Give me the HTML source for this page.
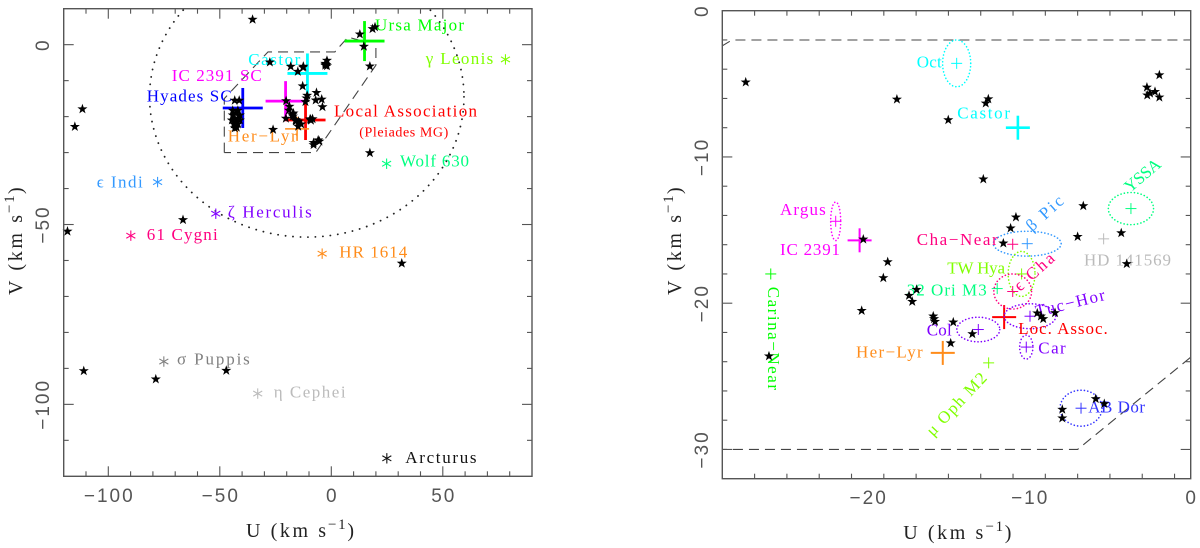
<!DOCTYPE html>
<html lang="en">
<head>
<meta charset="utf-8">
<title>UV velocity diagrams</title>
<style>
html,body{margin:0;padding:0;background:#fff;}
svg{display:block;}
.l{font-family:"Liberation Serif","DejaVu Serif",serif;font-size:17px;}
.s{font-family:"Liberation Serif","DejaVu Serif",serif;font-size:14px;}
.a{font-family:"Liberation Serif","DejaVu Serif",serif;font-size:20px;fill:#222;}
.a2{font-family:"Liberation Serif","DejaVu Serif",serif;font-size:15px;fill:#222;}
.t{font-family:"Liberation Sans",sans-serif;font-size:19px;letter-spacing:2px;fill:#555;}
</style>
</head>
<body>
<svg id="chart" xmlns="http://www.w3.org/2000/svg" width="1200" height="548" viewBox="0 0 1200 548">
<defs>
<clipPath id="clipL"><rect x="63.7" y="8.7" width="468.3" height="467.6"/></clipPath>
<clipPath id="clipR"><rect x="722.3" y="10.7" width="468.4" height="468"/></clipPath>
</defs>
<rect width="1200" height="548" fill="#fff"/>

<g id="leftMarks"></g>
<g id="rightMarks"></g>

<g>
<text class="l" x="375" y="30.7" textLength="89" fill="#00ff00">Ursa Major</text>
<text class="l" x="248.3" y="65" textLength="52" fill="#00ffff">Castor</text>
<text class="l" x="171.7" y="81" textLength="90" fill="#ff00ff">IC 2391 SC</text>
<text class="l" x="146.7" y="101.7" textLength="85" fill="#0000ff">Hyades SC</text>
<text class="l" x="334" y="116.7" textLength="143" fill="#ff0000">Local Association</text>
<text class="s" x="359.3" y="136.7" textLength="89" fill="#ff0000">(Pleiades MG)</text>
<text class="l" x="227.7" y="141.7" textLength="69" fill="#ff8c1a">Her−Lyr</text>
<text class="l" x="425.7" y="64" textLength="67.6" fill="#80ff00">γ Leonis</text>
<text class="l" x="400" y="166.7" textLength="69" fill="#00ff80">Wolf 630</text>
<text class="l" x="339.3" y="257.7" textLength="68" fill="#ff8c1a">HR 1614</text>
<text class="l" x="96.7" y="187.3" textLength="46" fill="#3399ff">ϵ Indi</text>
<text class="l" x="227.7" y="217.7" textLength="84" fill="#8000ff">ζ Herculis</text>
<text class="l" x="146.7" y="240" textLength="71" fill="#ff0080">61 Cygni</text>
<text class="l" x="177" y="364.7" textLength="72.8" fill="#808080">σ Puppis</text>
<text class="l" x="273.7" y="397.3" textLength="71.9" fill="#bbbbbb">η Cephei</text>
<text class="l" x="405.3" y="463" textLength="71.2" fill="#111111">Arcturus</text>
</g>

<g>
<text class="l" x="916.7" y="67.7" textLength="25" fill="#00ffff">Oct</text>
<text class="l" x="957.3" y="118.3" textLength="52.7" fill="#00ffff">Castor</text>
<text class="l" x="780" y="215" textLength="45.7" fill="#ff00ff">Argus</text>
<text class="l" x="780" y="255" textLength="60" fill="#ff00ff">IC 2391</text>
<text class="l" x="916.7" y="245" textLength="81" fill="#ff0080">Cha−Near</text>
<text class="l" x="1032" y="232" textLength="44" fill="#3399ff" transform="rotate(-42 1032 232)">β Pic</text>
<text class="l" x="1130" y="193" textLength="42" fill="#00ff80" transform="rotate(-40 1130 193)">YSSA</text>
<text class="l" x="1084" y="265.7" textLength="87" fill="#bbbbbb">HD 141569</text>
<text class="l" x="947.3" y="273.3" textLength="57.7" fill="#80ff00">TW Hya</text>
<text class="l" x="906.7" y="295.7" textLength="80" fill="#00ff80">32 Ori M3</text>
<text class="l" x="1020" y="292" textLength="48" fill="#ff0080" transform="rotate(-42 1020 292)">ϵ Cha</text>
<text class="l" x="1037" y="317" textLength="71" fill="#8000ff" transform="rotate(-14 1037 317)">Tuc−Hor</text>
<text class="l" x="1018.3" y="334" textLength="89.4" fill="#ff0000">Loc. Assoc.</text>
<text class="l" x="926.7" y="335.7" textLength="25" fill="#8000ff">Col</text>
<text class="l" x="1038.3" y="353.3" textLength="27.4" fill="#8000ff">Car</text>
<text class="l" x="856" y="357.3" textLength="66.7" fill="#ff8c1a">Her−Lyr</text>
<text class="l" x="933" y="437" textLength="80" fill="#80ff00" transform="rotate(-46.7 933 437)">μ Oph M2</text>
<text class="l" x="1088.3" y="412.3" textLength="56.7" fill="#3333ff">AB Dor</text>
<text class="l" x="768" y="286.7" textLength="103.3" fill="#00ff00" transform="rotate(90 768 286.7)">Carina−Near</text>
</g>

<g>
<text class="a" x="246" y="537" textLength="80">U (km s</text>
<text class="a2" x="328" y="529" textLength="17.6">−1</text>
<text class="a" x="347.4" y="537" textLength="7">)</text>
<text class="a" x="22" y="295" textLength="80" transform="rotate(-90 22 295)">V (km s</text>
<text class="a2" x="14" y="213" textLength="17.6" transform="rotate(-90 14 213)">−1</text>
<text class="a" x="22" y="194" textLength="7" transform="rotate(-90 22 194)">)</text>
<text class="a" x="903.3" y="539" textLength="80">U (km s</text>
<text class="a2" x="985.5" y="531" textLength="17.6">−1</text>
<text class="a" x="1004.7" y="539" textLength="7">)</text>
<text class="a" x="681" y="295" textLength="80" transform="rotate(-90 681 295)">V (km s</text>
<text class="a2" x="673" y="213" textLength="17.6" transform="rotate(-90 673 213)">−1</text>
<text class="a" x="681" y="194" textLength="7" transform="rotate(-90 681 194)">)</text>
</g>

<g id="starsL"></g>
<g id="starsR"></g>
<g id="axes"></g>
</svg>

<script>
// Stars within both panels (U, V in km/s)
const nearStarU = [-27.55,-18.19,-20.27,-18.76,-12.53,-12.69,-15.01,-12.84,-10.82,-11.15,-11.6,-6.65,-7.0,-4.3,-3.96,-1.94,-2.71,-2.21,-2.52,-2.69,-1.94,-19.03,-16.97,-17.44,-17.24,-20.37,-26.11,-15.94,-15.83,-15.89,-14.7,-14.86,-13.52,-9.5,-9.27,-9.13,-8.4,-7.95,-7.95,-5.88,-5.35];
const nearStarV = [-4.89,-6.06,-15.63,-17.18,-6.04,-6.33,-7.47,-11.52,-14.12,-14.87,-15.9,-13.35,-15.45,-15.2,-17.31,-4.4,-5.24,-5.54,-5.65,-5.78,-5.92,-18.27,-19.07,-19.48,-19.89,-20.51,-23.62,-20.89,-21.26,-21.07,-21.3,-22.73,-22.1,-20.68,-20.89,-21.07,-20.66,-27.27,-27.86,-26.54,-26.88];
// Stars only visible in the wide panel
const farStarU = [-35.3,-111.6,-115,-118.3,-66.5,-43.3,-41.3,-44.2,-41.9,-42.8,-44.2,-41,-43.3,-41.9,-44.6,-42.8,-41,-43.7,-41.9,-43.3,-42.4,12.8,18.5,19.6,14.6,17.3,17.3,31.6,-111,-78.7,-47.1];
const farStarV = [7,-17.9,-22.8,-51.9,-48.7,-15.5,-15.5,-18.3,-18.3,-19.1,-19.6,-19.6,-20.5,-20.5,-21,-21.6,-21,-22.1,-22.1,-23.2,-23,2.9,4.4,4.9,-0.5,-6,-30.1,-60.8,-90.7,-93,-90.6];

// Moving groups (large crosses)
const groupNames = ['Ursa Major','Castor','IC 2391','Hyades','Local Association','Her-Lyr'];
const groupU = [14.9,-10.7,-20.5,-39.7,-11.55,-15.35];
const groupV = [1.0,-8.0,-15.7,-17.6,-20.95,-23.4];

// Field stars (asterisks)
const fieldNames = ['gamma Leonis','Wolf 630','HR 1614','epsilon Indi','zeta Herculis','61 Cygni','sigma Puppis','eta Cephei','Arcturus'];
const fieldU = [78.1,24.8,-4.1,-77.9,-51.8,-89.9,-75.1,-33,24.9];
const fieldV = [-4.1,-33.1,-58.1,-38.2,-47,-53.1,-88.1,-97,-115];

// Young associations (small crosses with dispersions)
const youngNames = ['Oct','Argus','beta Pic','Cha-Near','YSSA','HD 141569','Carina-Near','TW Hya','32 Ori','epsilon Cha','Tuc-Hor','Col','Car','mu Oph','AB Dor'];
const youngU = [-14.49,-21.98,-10.12,-11.02,-3.7,-5.39,-26.0,-10.47,-11.98,-11.02,-9.95,-13.15,-10.18,-12.51,-6.79];
const youngV = [-3.6,-14.4,-15.93,-15.97,-13.53,-15.6,-18.0,-18.0,-19.0,-19.2,-20.89,-21.8,-23.0,-24.08,-27.18];
const youngSigU = [0.87,0.31,2.1,0,1.4,0,0,0.83,0,1.17,1.6,1.33,0.41,0,1.3];
const youngSigV = [1.6,1.32,0.85,0,1.1,0,0,1.54,0,1.2,0.85,0.84,0.82,0,1.23];

// Young-disk box outline
const boxU = [-48,-48,-28.4,1.6,7.5,14,20,20,-7,-48];
const boxV = [-30,-15,-2,-2,2.1,1,1,-5.7,-30,-30];

// Tick labels
const leftXTicks = [-100,-50,0,50];
const leftYTicks = [0,-50,-100];
const rightXTicks = [-20,-10,0];
const rightYTicks = [0,-10,-20,-30];

const groupColor = {'Ursa Major':'#00ff00','Castor':'#00ffff','IC 2391':'#ff00ff','Hyades':'#0000ff','Local Association':'#ff0000','Her-Lyr':'#ff8c1a'};
const fieldColor = {'gamma Leonis':'#80ff00','Wolf 630':'#00ff80','HR 1614':'#ff8c1a','epsilon Indi':'#3399ff','zeta Herculis':'#8000ff','61 Cygni':'#ff0080','sigma Puppis':'#808080','eta Cephei':'#bbbbbb','Arcturus':'#111111'};
const youngColor = {'Oct':'#00ffff','Argus':'#ff00ff','beta Pic':'#3399ff','Cha-Near':'#ff0080','YSSA':'#00ff80','HD 141569':'#bbbbbb','Carina-Near':'#00ff00','TW Hya':'#80ff00','32 Ori':'#00ff80','epsilon Cha':'#ff0080','Tuc-Hor':'#8000ff','Col':'#8000ff','Car':'#8000ff','mu Oph':'#80ff00','AB Dor':'#3333ff'};

const NS = 'http://www.w3.org/2000/svg';
const L = {x0:63.7,x1:532,y0:8.7,y1:476.3,umin:-120,umax:90,vmin:-120,vmax:10};
const R = {x0:722.3,x1:1190.7,y0:10.7,y1:478.7,umin:-29,umax:0,vmin:-32,vmax:0};
function sx(P,u){return P.x0+(u-P.umin)/(P.umax-P.umin)*(P.x1-P.x0);}
function sy(P,v){return P.y0+(P.vmax-v)/(P.vmax-P.vmin)*(P.y1-P.y0);}
function mk(parent,tag,attrs){
  const e=document.createElementNS(NS,tag);
  for(const k in attrs){e.setAttribute(k,attrs[k]);}
  parent.appendChild(e);
  return e;
}
function slug(s){return s.toLowerCase().replace(/[^a-z0-9]+/g,'-');}

function drawCross(parent,P,u,v,half,width,color,name){
  const g=mk(parent,'g',{stroke:color,'stroke-width':width,fill:'none'});
  
  
  const x=sx(P,u),y=sy(P,v);
  mk(g,'line',{x1:x-half,x2:x+half,y1:y,y2:y});
  mk(g,'line',{x1:x,x2:x,y1:y-half,y2:y+half});
}
function drawStar(parent,P,u,v){
  const x=sx(P,u),y=sy(P,v),pts=[];
  for(let i=0;i<10;i++){
    const r=i%2?2.1:5.3,a=-Math.PI/2+i*Math.PI/5;
    pts.push((x+r*Math.cos(a)).toFixed(2)+','+(y+r*Math.sin(a)).toFixed(2));
  }
  const s=mk(parent,'polygon',{points:pts.join(' '),fill:'#000'});
  
  
}
function drawAsterisk(parent,P,u,v,color,name){
  const g=mk(parent,'g',{stroke:color,'stroke-width':1.1});
  
  
  const x=sx(P,u),y=sy(P,v);
  for(let i=0;i<3;i++){
    const a=Math.PI/2+i*Math.PI/3,dx=5.2*Math.cos(a),dy=5.2*Math.sin(a);
    mk(g,'line',{x1:x-dx,x2:x+dx,y1:y-dy,y2:y+dy});
  }
}
function drawBox(parent,P,clip,name){
  const pts=boxU.map(function(u,i){return sx(P,u).toFixed(1)+','+sy(P,boxV[i]).toFixed(1);}).join(' ');
  const b=mk(parent,'polyline',{points:pts,fill:'none',stroke:'#444','stroke-width':1.1,'stroke-dasharray':'10 6','clip-path':'url(#'+clip+')'});
  
  
}
function drawAxes(parent,P,uStep,vStep,xTicks,yTicks,xBase,yBase,prefix){
  const f=mk(parent,'rect',{x:P.x0,y:P.y0,width:P.x1-P.x0,height:P.y1-P.y0,fill:'none',stroke:'#555','stroke-width':1.4});
  
  
  const tg=mk(parent,'g',{stroke:'#555','stroke-width':1.1});
  
  
  for(let u=P.umin+uStep;u<P.umax;u+=uStep){
    const len=xTicks.indexOf(u)>=0?10:5,x=sx(P,u);
    mk(tg,'line',{x1:x,x2:x,y1:P.y1,y2:P.y1-len});
    mk(tg,'line',{x1:x,x2:x,y1:P.y0,y2:P.y0+len});
  }
  for(let v=P.vmin+vStep;v<P.vmax;v+=vStep){
    const len=yTicks.indexOf(v)>=0?10:5,y=sy(P,v);
    mk(tg,'line',{x1:P.x0,x2:P.x0+len,y1:y,y2:y});
    mk(tg,'line',{x1:P.x1,x2:P.x1-len,y1:y,y2:y});
  }
  xTicks.forEach(function(u){
    const t=mk(parent,'text',{class:'t',x:sx(P,u)+1,y:xBase,'text-anchor':'middle'});
    
    
    t.textContent=String(u).replace('-','\u2212');
  });
  yTicks.forEach(function(v){
    const y=sy(P,v);
    const t=mk(parent,'text',{class:'t',x:yBase,y:y-1,'text-anchor':'middle',transform:'rotate(-90 '+yBase+' '+y+')'});
    
    
    t.textContent=String(v).replace('-','\u2212');
  });
}

const leftMarks=document.getElementById('leftMarks');
const rightMarks=document.getElementById('rightMarks');
const starsL=document.getElementById('starsL');
const starsR=document.getElementById('starsR');
const axes=document.getElementById('axes');

// Left panel
drawBox(leftMarks,L,'clipL','left-young-disk-box');
const dotted=mk(leftMarks,'ellipse',{cx:sx(L,-11),cy:sy(L,-14.5),rx:70.5*(L.x1-L.x0)/(L.umax-L.umin),ry:39*(L.y1-L.y0)/(L.vmax-L.vmin),fill:'none',stroke:'#222','stroke-width':1.8,'stroke-linecap':'round','stroke-dasharray':'0.1 7.4','clip-path':'url(#clipL)'});


groupNames.forEach(function(n,i){
  const small=n==='Her-Lyr';
  drawCross(leftMarks,L,groupU[i],groupV[i],small?12:20,small?1.5:2.8,groupColor[n],'left-cross-'+slug(n));
});
fieldNames.forEach(function(n,i){
  drawAsterisk(leftMarks,L,fieldU[i],fieldV[i],fieldColor[n],'field-star-'+slug(n));
});
nearStarU.forEach(function(u,i){drawStar(starsL,L,u,nearStarV[i]);});
farStarU.forEach(function(u,i){drawStar(starsL,L,u,farStarV[i]);});

// Right panel
drawBox(rightMarks,R,'clipR','right-young-disk-box');
groupNames.forEach(function(n,i){
  if(groupU[i]<R.umin||groupU[i]>R.umax||groupV[i]>R.vmax){return;}
  drawCross(rightMarks,R,groupU[i],groupV[i],12,n==='Castor'?2.6:2,groupColor[n],'right-cross-'+slug(n));
});
youngNames.forEach(function(n,i){
  drawCross(rightMarks,R,youngU[i],youngV[i],5.5,1,youngColor[n],'young-cross-'+slug(n));
  if(youngSigU[i]>0){
    const el=mk(rightMarks,'ellipse',{cx:sx(R,youngU[i]),cy:sy(R,youngV[i]),rx:youngSigU[i]*(R.x1-R.x0)/(R.umax-R.umin),ry:youngSigV[i]*(R.y1-R.y0)/(R.vmax-R.vmin),fill:'none',stroke:youngColor[n],'stroke-width':1.6,'stroke-linecap':'round','stroke-dasharray':'0.1 3.3'});
    
    
  }
});
nearStarU.forEach(function(u,i){drawStar(starsR,R,u,nearStarV[i]);});

// Axes
drawAxes(axes,L,10,10,leftXTicks,leftYTicks,502,50,'left');
drawAxes(axes,R,2,2,rightXTicks,rightYTicks,504,709,'right');
</script>
</body>
</html>
